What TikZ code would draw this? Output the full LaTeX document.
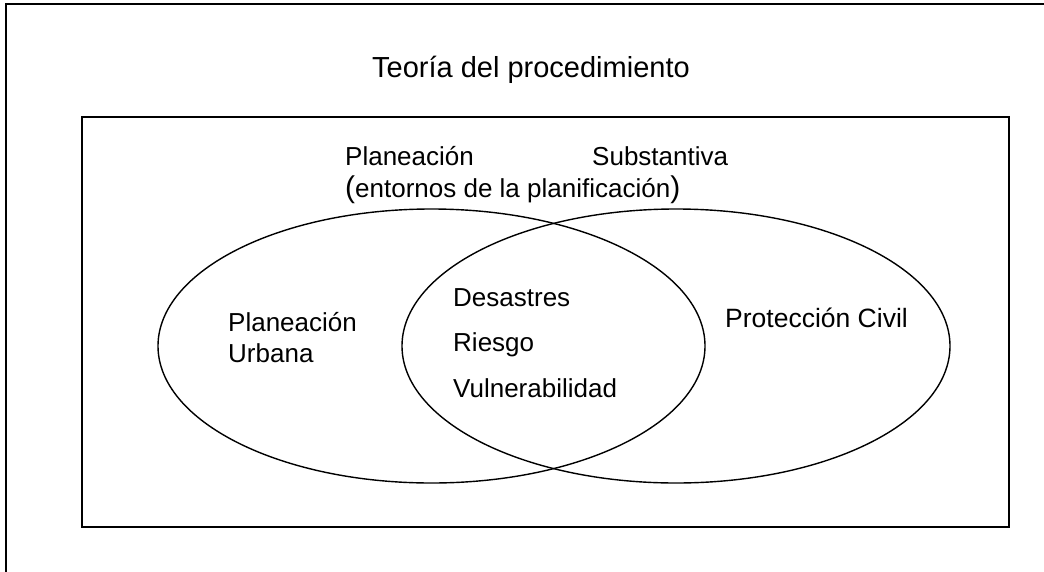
\documentclass[tikz,border=0pt]{standalone}
\usepackage{fontspec}
\setmainfont{Liberation Sans}
\begin{document}
\begin{tikzpicture}[x=1pt,y=-1pt,
  lbl/.style={anchor=base west,inner sep=0pt,font=\fontsize{26}{30}\selectfont},
  frame/.style={draw=black,line width=1.6pt},
  venn/.style={draw=black,line width=1.4pt}]
\useasboundingbox (0,0) rectangle (1044,571);
\draw[frame] (6,4) rectangle (1060,590);
\draw[frame] (82,117) rectangle (1009,527);
\draw[venn] (431.5,346) ellipse [x radius=273.5,y radius=137];
\draw[venn] (676,346) ellipse [x radius=274,y radius=137];
\node[lbl,font=\fontsize{29}{33}\selectfont] (title) at (372,77) {Teoría del procedimiento};
\node[lbl] (plan) at (345,165) {Planeación};
\node[lbl] (subs) at (592,165) {Substantiva};
\node[lbl] (ent) at (345,197) {{\fontsize{30}{30}\selectfont(}entornos de la planificación{\fontsize{30}{30}\selectfont)}};
\node[lbl] (pu1) at (228,331) {Planeación};
\node[lbl] (pu2) at (228,362) {Urbana};
\node[lbl] (d1) at (453,306) {Desastres};
\node[lbl] (d2) at (453,351) {Riesgo};
\node[lbl] (d3) at (453,397) {Vulnerabilidad};
\node[lbl,font=\fontsize{26.5}{30}\selectfont] (pc) at (725,327) {Protección Civil};
\end{tikzpicture}
\end{document}
